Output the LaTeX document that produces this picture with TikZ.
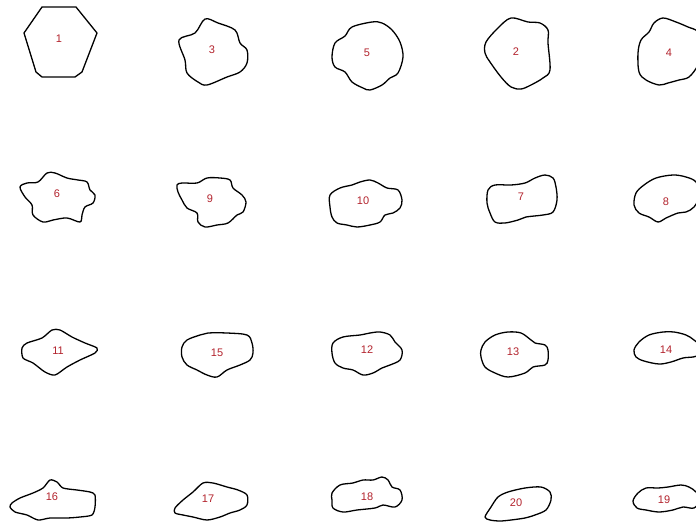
\documentclass[tikz,border=0pt]{standalone}
\usepackage{fontspec}
\setmainfont{Liberation Sans}
\definecolor{labelred}{RGB}{178,34,44}
\begin{document}
\begin{tikzpicture}[x=1pt,y=-1pt,
  outline/.style={draw=black,line width=1.3pt,line join=round},
  blob/.style={outline},
  lbl/.style={text=labelred,font=\fontsize{11}{13}\selectfont,inner sep=0pt}]
\useasboundingbox (0,0) rectangle (696,522);
\clip (0,0) rectangle (696,522);
% ---- row 1 ----
\draw[outline] (42,7) -- (76,7) -- (97,33) -- (82,72) -- (75,77) -- (42,77) -- (36,72) -- (24,33) -- cycle;
\node[lbl] (n1) at (59,39) {1};
\draw[blob] plot[smooth cycle,tension=0.55] coordinates {(205,19) (218,23) (235,30) (240,43) (247,50) (247,63) (240,72) (227,77) (207,85) (198,82) (187,73) (185,60) (179,40) (195,33)};
\node[lbl] (n3) at (212,50) {3};
\draw[blob] plot[smooth cycle,tension=0.55] coordinates {(372,22) (382,23) (392,30) (400,42) (403,57) (398,73) (390,78) (382,85) (370,90) (363,88) (352,82) (345,72) (335,67) (332,57) (335,43) (345,36) (352,27)};
\node[lbl] (n5) at (367,53) {5};
\draw[blob] plot[smooth cycle,tension=0.55] coordinates {(511,18) (528,22) (540,23) (548,30) (548,43) (550,70) (543,78) (531,85) (521,89) (511,87) (501,77) (490,62) (485,53) (486,42) (498,28)};
\node[lbl] (n2) at (516,52) {2};
\draw[blob] plot[smooth cycle,tension=0.55] coordinates {(663,18) (676,22) (688,27) (698,32) (703,48) (698,65) (689,77) (679,80) (668,83) (659,85) (646,80) (639,72) (638,53) (641,40) (649,32) (654,23)};
\node[lbl] (n4) at (669,53) {4};
% ---- row 2 ----
\draw[blob] plot[smooth cycle,tension=0.55] coordinates {(20,187) (27,183) (38,182) (47,173) (55,173) (67,178) (78,180) (87,182) (90,190) (95,195) (93,203) (85,207) (82,215) (80,222) (67,218) (53,220) (43,222) (33,215) (32,205) (25,197)};
\node[lbl] (n6) at (57,194) {6};
\draw[blob] plot[smooth cycle,tension=0.55] coordinates {(177,185) (182,183) (197,183) (207,178) (220,178) (230,180) (233,188) (242,195) (246,202) (243,212) (237,215) (228,223) (217,225) (205,227) (198,222) (197,213) (187,208) (182,200) (178,192)};
\node[lbl] (n9) at (210,199) {9};
\draw[blob] plot[smooth cycle,tension=0.55] coordinates {(330,195) (340,188) (352,185) (360,182) (370,180) (378,183) (387,188) (398,190) (402,200) (400,208) (393,213) (385,215) (380,222) (370,225) (357,227) (347,225) (337,223) (332,217) (330,207)};
\node[lbl] (n10) at (363,201) {10};
\draw[blob] plot[smooth cycle,tension=0.55] coordinates {(488,190) (495,185) (511,185) (525,183) (535,178) (545,175) (553,178) (556,187) (557,200) (553,212) (543,215) (526,217) (518,220) (505,223) (495,222) (490,213) (487,203)};
\node[lbl] (n7) at (521,197) {7};
\draw[blob] plot[smooth cycle,tension=0.55] coordinates {(673,175) (686,177) (696,182) (700,195) (694,207) (686,212) (678,213) (666,218) (658,222) (649,217) (639,213) (634,205) (636,193) (644,185) (656,178)};
\node[lbl] (n8) at (666,202) {8};
% ---- row 3 ----
\draw[blob] plot[smooth cycle,tension=0.45] coordinates {(22,348) (27,343) (42,338) (52,330) (60,330) (72,337) (85,343) (97,348) (95,353) (80,360) (67,367) (55,375) (45,372) (33,363) (23,358)};
\node[lbl] (n11) at (58,351) {11};
\draw[blob] plot[smooth cycle,tension=0.55] coordinates {(182,347) (187,340) (200,335) (208,333) (227,333) (247,335) (252,343) (253,353) (250,360) (240,365) (227,370) (217,377) (207,375) (197,370) (187,365) (182,357)};
\node[lbl] (n15) at (217,353) {15};
\draw[blob] plot[smooth cycle,tension=0.55] coordinates {(333,343) (343,337) (360,335) (370,333) (380,332) (390,335) (395,342) (402,350) (400,360) (390,365) (382,368) (373,373) (363,375) (353,370) (343,368) (335,363) (332,353)};
\node[lbl] (n12) at (367,350) {12};
\draw[blob] plot[smooth cycle,tension=0.55] coordinates {(481,350) (485,342) (495,335) (508,332) (521,333) (531,340) (535,343) (545,345) (548,350) (548,360) (545,365) (533,367) (525,373) (508,377) (495,373) (485,367) (481,357)};
\node[lbl] (n13) at (513,352) {13};
\draw[blob] plot[smooth cycle,tension=0.55] coordinates {(663,332) (674,332) (686,335) (694,340) (702,348) (698,355) (693,357) (683,358) (671,362) (659,364) (644,361) (636,357) (634,350) (639,342) (649,335)};
\node[lbl] (n14) at (666,350) {14};
% ---- row 4 ----
\draw[blob] plot[smooth cycle,tension=0.45] coordinates {(12,503) (20,498) (33,493) (43,488) (50,480) (57,482) (63,488) (77,490) (90,492) (95,495) (95,507) (92,515) (80,517) (67,518) (50,518) (38,520) (27,515) (15,512) (10,507)};
\node[lbl] (n16) at (52,497) {16};
\draw[blob] plot[smooth cycle,tension=0.5] coordinates {(175,508) (183,500) (193,492) (203,483) (213,483) (227,487) (238,490) (247,495) (247,505) (240,510) (230,513) (220,517) (207,520) (193,517) (183,515) (175,513)};
\node[lbl] (n17) at (208,499) {17};
\draw[blob] plot[smooth cycle,tension=0.55] coordinates {(332,493) (340,485) (353,483) (363,480) (373,480) (382,477) (388,480) (392,487) (400,490) (402,500) (395,507) (383,505) (375,508) (357,510) (343,512) (333,508) (332,500)};
\node[lbl] (n18) at (367,497) {18};
\draw[blob] plot[smooth cycle,tension=0.5] coordinates {(485,517) (491,507) (498,497) (508,492) (525,488) (541,487) (550,492) (551,500) (546,510) (535,515) (525,518) (511,520) (500,521) (490,520)};
\node[lbl] (n20) at (516,503) {20};
\draw[blob] plot[smooth cycle,tension=0.55] coordinates {(638,493) (646,488) (658,488) (668,487) (681,485) (689,487) (696,492) (700,500) (694,508) (683,507) (673,510) (659,512) (646,510) (637,508) (633,501)};
\node[lbl] (n19) at (664,500) {19};
\end{tikzpicture}
\end{document}
